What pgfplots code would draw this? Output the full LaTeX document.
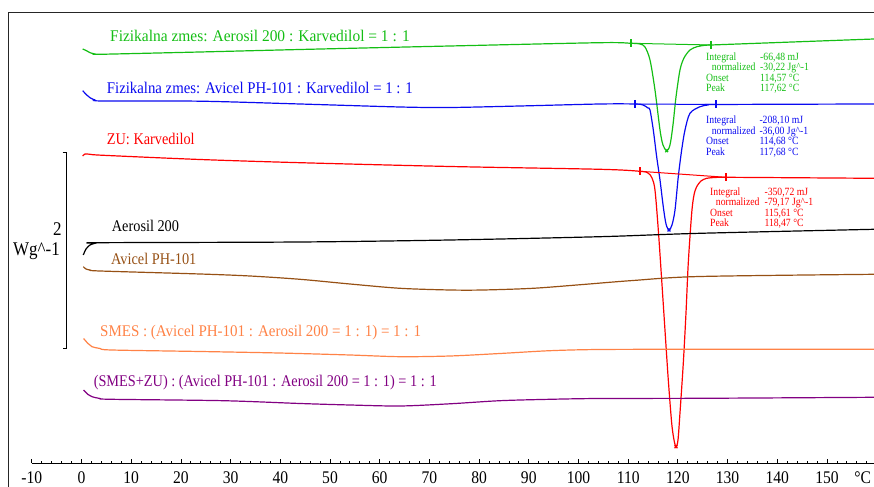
\documentclass[border=0pt]{standalone}
\usepackage{pgfplots}
\pgfplotsset{compat=1.18}
\usepackage{fontspec}
\setmainfont{Liberation Serif}
\usepackage{graphicx}
\definecolor{cgreen}{RGB}{20,190,20}
\definecolor{cblue}{RGB}{10,10,240}
\definecolor{cred}{RGB}{255,0,0}
\definecolor{cbrown}{RGB}{150,80,20}
\definecolor{corange}{RGB}{255,130,70}
\definecolor{cpurple}{RGB}{130,0,130}
\newcommand\vs[1]{\scalebox{1}[1.14]{#1}}
\newcommand\hvs[2]{\scalebox{#1}[1.14]{#2}}
\newcommand\lab{\fontsize{14.3}{15}\selectfont}
\newcommand\ann{\fontsize{9.7}{10}\selectfont}
\begin{document}
\begin{tikzpicture}
\begin{axis}[
  scale only axis, width=874pt, height=463.5pt,
  xmin=-16.40, xmax=159.46, ymin=0, ymax=463.5,
  axis x line=bottom, axis y line=none,
  x axis line style={draw=none,-},
  xtick={-10,0,10,20,30,40,50,60,70,80,90,100,110,120,130,140,150},
  xticklabels={\vs{-10},\vs{0},\vs{10},\vs{20},\vs{30},\vs{40},\vs{50},\vs{60},\vs{70},\vs{80},\vs{90},\vs{100},\vs{110},\vs{120},\vs{130},\vs{140},\vs{150}},
  minor xtick={-8,-6,...,158},
  xtick align=inside,
  major tick length=4pt, minor tick length=2.5pt,
  tick style={black, line width=0.8pt},
  xticklabel style={font=\fontsize{15.6}{16}\selectfont, anchor=base, inner sep=0pt, yshift=-19.6pt},
  clip=false,
  every axis plot/.append style={line width=1.2pt},
]
\coordinate (bbl) at (axis cs:-16.40,-23.5);
\coordinate (btr) at (axis cs:159.46,463.5);
% frame and axis line
\draw[line width=0.9pt, black!85] (axis cs:-14.79,-23.5) -- (axis cs:-14.79,451.5) -- (axis cs:159.46,451.5);
\draw[line width=1.3pt] (axis cs:-10,0) -- (axis cs:159.46,0);
\node[anchor=base, inner sep=0pt, font=\fontsize{15.6}{16}\selectfont] at (axis cs:157.2,-19.6) {\vs{°C}};
% scale bar
\draw[line width=1.2pt] (axis cs:-3.78,310.8) -- (axis cs:-2.98,310.8) -- (axis cs:-2.98,115.2) -- (axis cs:-3.78,115.2);
\node[anchor=east, font=\fontsize{17}{17}\selectfont, inner sep=0pt] at (axis cs:-3.98,234.2) {\vs{2}};
\node[anchor=east, font=\fontsize{17}{17}\selectfont, inner sep=0pt] at (axis cs:-4.33,212.8) {\vs{Wg\textasciicircum-1}};

% Green
\addplot[cgreen, smooth, tension=0.5] coordinates {
(0.24,414.5) (0.99,412.8) (1.71,410.8) (2.72,409.5) (3.72,409.2) (23.84,411.5) (43.96,414.0) (74.14,417.5) (104.33,420.8) (110.56,420.2) (112.37,419.5) (113.38,416.5) (114.39,403.5) (115.39,373.5) (116.40,333.5) (117.00,318.5) (117.75,312.8) (118.41,318.5) (119.01,338.5) (119.62,366.5) (120.42,393.5) (121.23,405.5) (122.43,413.5) (123.84,416.8) (125.45,418.2) (126.66,418.5) (159.46,424.5)};
\addplot[cgreen, line width=1pt, mark=|, mark size=4pt, mark options={line width=1.6pt}] coordinates {(110.56,420.2) (126.66,418.5)};
\addplot[cgreen, only marks, mark=x, mark size=2pt] coordinates {(117.75,312.8)};

% Blue
\addplot[cblue, smooth, tension=0.5] coordinates {
(0.24,372.8) (1.05,368.5) (1.71,365.8) (2.72,363.5) (4.39,362.5) (23.84,362.3) (43.96,359.5) (64.09,356.5) (74.14,356.0) (88.23,357.5) (104.33,359.5) (111.37,359.5) (112.98,358.5) (113.98,355.5) (114.39,353.5) (115.05,333.5) (115.73,306.8) (116.40,283.5) (117.06,256.8) (117.61,239.5) (118.21,233.5) (118.81,238.5) (119.42,253.5) (120.08,286.8) (120.76,313.5) (121.43,333.5) (122.43,350.2) (124.45,356.8) (126.06,358.5) (127.61,359.0) (159.46,359.5)};
\addplot[cblue, line width=1pt, mark=|, mark size=4pt, mark options={line width=1.6pt}] coordinates {(111.37,359.5) (127.61,359.0)};
\addplot[cblue, only marks, mark=x, mark size=2pt] coordinates {(118.21,233.5)};

% Red
\addplot[cred, smooth, tension=0.5] coordinates {
(0.24,307.5) (0.71,309.5) (1.71,309.2) (4.39,308.2) (23.84,304.0) (43.96,300.8) (74.14,297.0) (104.33,294.2) (112.37,292.2) (113.98,290.5) (114.79,285.5) (115.39,273.5) (116.06,233.5) (116.74,183.5) (117.40,133.5) (118.07,83.5) (118.75,40.5) (119.22,23.5) (119.62,16.8) (120.02,23.5) (120.42,50.5) (121.09,100.5) (121.63,150.5) (122.09,200.5) (122.78,250.5) (123.24,268.5) (123.78,276.8) (124.65,282.5) (125.79,285.2) (127.46,286.0) (129.68,286.2) (159.46,285.2)};
\addplot[cred, line width=1pt, mark=|, mark size=4pt, mark options={line width=1.6pt}] coordinates {(112.37,292.2) (129.68,286.2)};
\addplot[cred, only marks, mark=x, mark size=2pt] coordinates {(119.62,16.8)};

% Black
\addplot[black, smooth, tension=0.5] coordinates {
(0.36,208.5) (0.91,214.5) (1.71,218.5) (2.72,220.2) (3.72,220.8) (43.96,221.5) (74.14,223.5) (104.33,226.8) (124.45,230.2) (159.46,234.2)};

% Brown
\addplot[cbrown, smooth, tension=0.5] coordinates {
(0.36,196.8) (0.91,194.5) (1.71,193.5) (3.72,192.5) (23.84,189.5) (33.90,187.5) (43.96,184.2) (54.02,179.5) (64.09,175.2) (74.14,173.5) (80.78,173.5) (90.85,175.2) (100.91,179.0) (110.97,183.0) (124.45,187.0) (159.46,189.2)};

% Orange
\addplot[corange, smooth, tension=0.5] coordinates {
(0.42,125.0) (1.31,120.0) (2.11,116.8) (3.72,115.0) (6.04,113.5) (23.84,112.0) (39.68,110.5) (54.02,108.5) (64.09,106.8) (74.14,107.5) (84.21,110.0) (94.27,112.8) (104.33,114.0) (124.45,114.2) (159.46,114.2)};

% Purple
\addplot[cpurple, smooth, tension=0.5] coordinates {
(0.42,73.5) (1.31,69.0) (2.11,66.8) (3.72,65.0) (6.04,64.2) (28.47,62.8) (43.96,60.0) (54.02,58.5) (64.09,57.5) (74.14,59.7) (84.21,62.8) (94.27,64.2) (104.33,65.0) (124.45,65.2) (159.46,66.2)};

% Curve labels
\node[anchor=base west, inner sep=0pt, text=cgreen, font=\lab] at (axis cs:5.73,421.8) {\hvs{1.08}{Fizikalna zmes: Aerosil 200 : Karvedilol = 1 : 1}};
\node[anchor=base west, inner sep=0pt, text=cblue, font=\lab] at (axis cs:5.07,370.2) {\hvs{1.036}{Fizikalna zmes: Avicel PH-101 : Karvedilol = 1 : 1}};
\node[anchor=base west, inner sep=0pt, text=cred, font=\lab] at (axis cs:5.07,318.5) {\vs{ZU: Karvedilol}};
\node[anchor=base west, inner sep=0pt, text=black, font=\lab] at (axis cs:6.08,231.8) {\vs{Aerosil 200}};
\node[anchor=base west, inner sep=0pt, text=cbrown, font=\lab] at (axis cs:5.94,199.2) {\vs{Avicel PH-101}};
\node[anchor=base west, inner sep=0pt, text=corange, font=\lab] at (axis cs:3.72,126.8) {\hvs{1.048}{SMES : (Avicel PH-101 : Aerosil 200 = 1 : 1) = 1 : 1}};
\node[anchor=base west, inner sep=0pt, text=cpurple, font=\lab] at (axis cs:2.43,76.8) {\vs{(SMES+ZU) : (Avicel PH-101 : Aerosil 200 = 1 : 1) = 1 : 1}};

% Annotations green
\begin{scope}[every node/.style={anchor=base west, inner sep=0pt, text=cgreen, font=\ann}]
\node at (axis cs:125.65,403) {\vs{Integral}};
\node at (axis cs:126.80,392.5) {\vs{normalized}};
\node at (axis cs:125.65,382) {\vs{Onset}};
\node at (axis cs:125.65,371.5) {\vs{Peak}};
\node at (axis cs:136.52,403) {\vs{-66,48 mJ}};
\node at (axis cs:136.52,392.5) {\vs{-30,22 Jg\textasciicircum-1}};
\node at (axis cs:136.52,382) {\vs{114,57 °C}};
\node at (axis cs:136.52,371.5) {\vs{117,62 °C}};
\end{scope}
% Annotations blue
\begin{scope}[every node/.style={anchor=base west, inner sep=0pt, text=cblue, font=\ann}]
\node at (axis cs:125.65,339.5) {\vs{Integral}};
\node at (axis cs:126.80,329) {\vs{normalized}};
\node at (axis cs:125.65,318.5) {\vs{Onset}};
\node at (axis cs:125.65,308) {\vs{Peak}};
\node at (axis cs:136.38,339.5) {\vs{-208,10 mJ}};
\node at (axis cs:136.38,329) {\vs{-36,00 Jg\textasciicircum-1}};
\node at (axis cs:136.38,318.5) {\vs{114,68 °C}};
\node at (axis cs:136.38,308) {\vs{117,68 °C}};
\end{scope}
% Annotations red
\begin{scope}[every node/.style={anchor=base west, inner sep=0pt, text=cred, font=\ann}]
\node at (axis cs:126.46,268) {\vs{Integral}};
\node at (axis cs:127.61,257.5) {\vs{normalized}};
\node at (axis cs:126.46,247) {\vs{Onset}};
\node at (axis cs:126.46,236.5) {\vs{Peak}};
\node at (axis cs:137.39,268) {\vs{-350,72 mJ}};
\node at (axis cs:137.39,257.5) {\vs{-79,17 Jg\textasciicircum-1}};
\node at (axis cs:137.39,247) {\vs{115,61 °C}};
\node at (axis cs:137.39,236.5) {\vs{118,47 °C}};
\end{scope}
\end{axis}
\pgfresetboundingbox
\useasboundingbox (bbl) rectangle (btr);
\end{tikzpicture}
\end{document}
